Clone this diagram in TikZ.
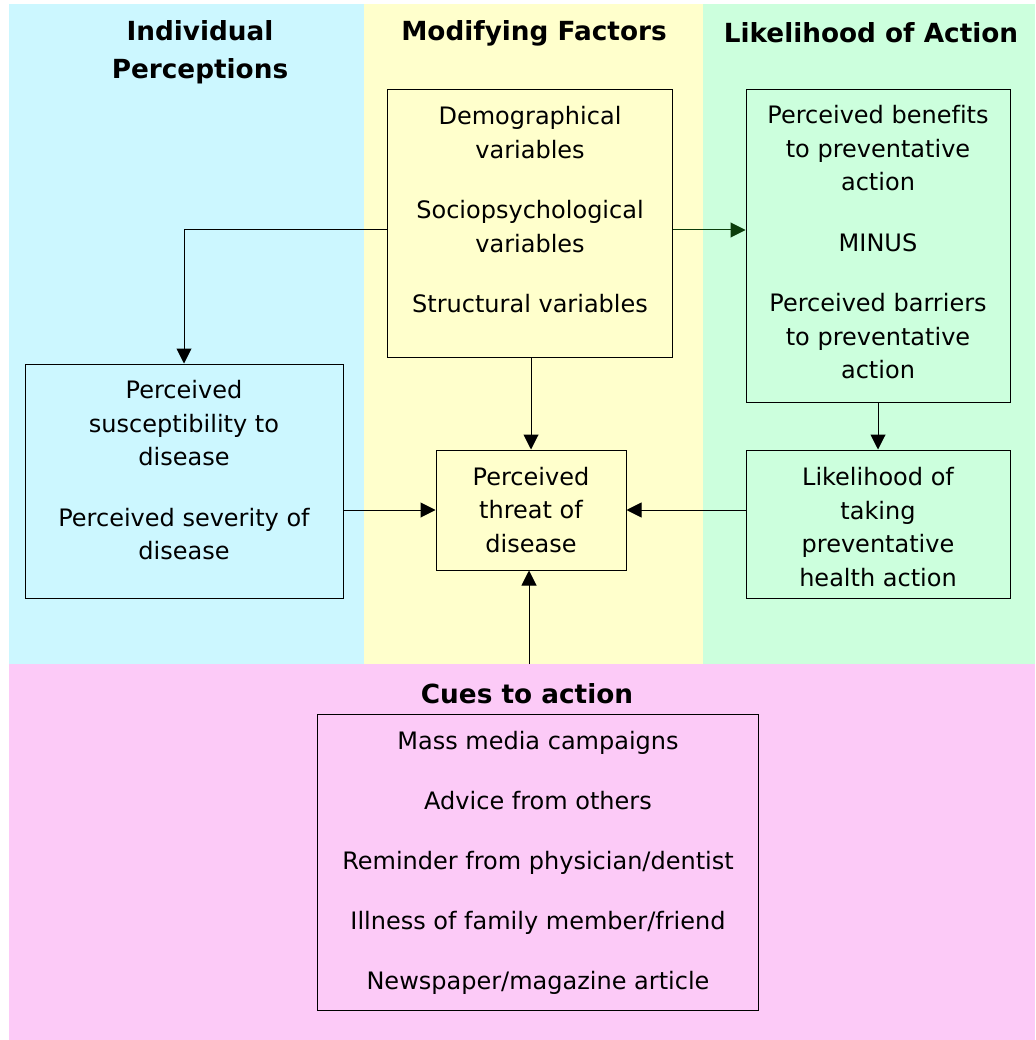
\documentclass[tikz,border=0pt]{standalone}
\usepackage{fontspec}
\setmainfont[Ligatures=NoCommon]{DejaVu Sans}
\usetikzlibrary{arrows.meta}
\definecolor{cyanbg}{HTML}{CCF7FF}
\definecolor{yellowbg}{HTML}{FFFFCC}
\definecolor{greenbg}{HTML}{CCFFDD}
\definecolor{pinkbg}{HTML}{FCCAF7}
\definecolor{darkarrow}{HTML}{0B3D0B}
\tikzset{
  box/.style={draw=black, line width=1pt, inner sep=0pt},
  txt/.style={align=center, font=\fontsize{24}{33.5}\selectfont, inner sep=0pt},
  cuetxt/.style={align=center, font=\fontsize{24}{60}\selectfont, inner sep=0pt},
  hdr/.style={align=center, font=\fontsize{26.3}{38}\selectfont\bfseries, inner sep=0pt},
  arr/.style={-{Triangle[width=15pt,length=15pt]}, line width=1pt},
}
\begin{document}
\begin{tikzpicture}[x=1pt,y=-1pt]
\useasboundingbox (0,0) rectangle (1035,1040);
% background panels
\fill[cyanbg] (9,4) rectangle (364,664);
\fill[yellowbg] (364,4) rectangle (703,664);
\fill[greenbg] (703,4) rectangle (1035,664);
\fill[pinkbg] (9,664) rectangle (1035,1040);
% headers
\node[hdr] (h1) at (200,52) {Individual\\Perceptions};
\node[hdr] (h2) at (534,33) {Modifying Factors};
\node[hdr] (h3) at (871,33) {Likelihood of Action};
\node[hdr] (h4) at (527,694) {Cues to action};
% boxes
\node[box, minimum width=285pt, minimum height=267pt] (mf) at (529.5,223.5) {};
\node[box, minimum width=264pt, minimum height=312pt] (ben) at (878,246) {};
\node[box, minimum width=318pt, minimum height=234pt] (ip) at (184,481) {};
\node[box, minimum width=190pt, minimum height=120pt] (th) at (531,510) {};
\node[box, minimum width=264pt, minimum height=148pt] (lk) at (878,524) {};
\node[box, minimum width=441pt, minimum height=296pt] (cue) at (537.5,862) {};
% texts
\node[txt] (mft) at (530,210) {Demographical\\variables\\[27pt]Sociopsychological\\variables\\[27pt]Structural variables};
\node[txt] (bent) at (878,242.5) {Perceived benefits\\to preventative\\action\\[27pt]MINUS\\[27pt]Perceived barriers\\to preventative\\action};
\node[txt] (ipt) at (184,470.5) {Perceived\\susceptibility to\\disease\\[27pt]Perceived severity of\\disease};
\node[txt] (tht) at (531,510) {Perceived\\threat of\\disease};
\node[txt] (lkt) at (878,527) {Likelihood of\\taking\\preventative\\health action};
\node[cuetxt] (cuet) at (538,863) {Mass media campaigns\\Advice from others\\Reminder from physician/dentist\\Illness of family member/friend\\Newspaper/magazine article};
% connectors
\coordinate (cuetop) at (529,664);
\draw[arr] ([yshift=-6.5pt]mf.west) -| (ip.north);
\draw[arr, draw=darkarrow, fill=darkarrow] ([yshift=-6.5pt]mf.east) -- ([yshift=-6.5pt]mf.east -| ben.west);
\draw[arr] (th.north |- mf.south) -- (th.north);
\draw[arr] (ben.south) -- (lk.north);
\draw[arr] (th.west -| ip.east) -- (th.west);
\draw[arr] (th.east -| lk.west) -- (th.east);
\draw[arr] (cuetop) -- (th.south -| cuetop);
\end{tikzpicture}
\end{document}
